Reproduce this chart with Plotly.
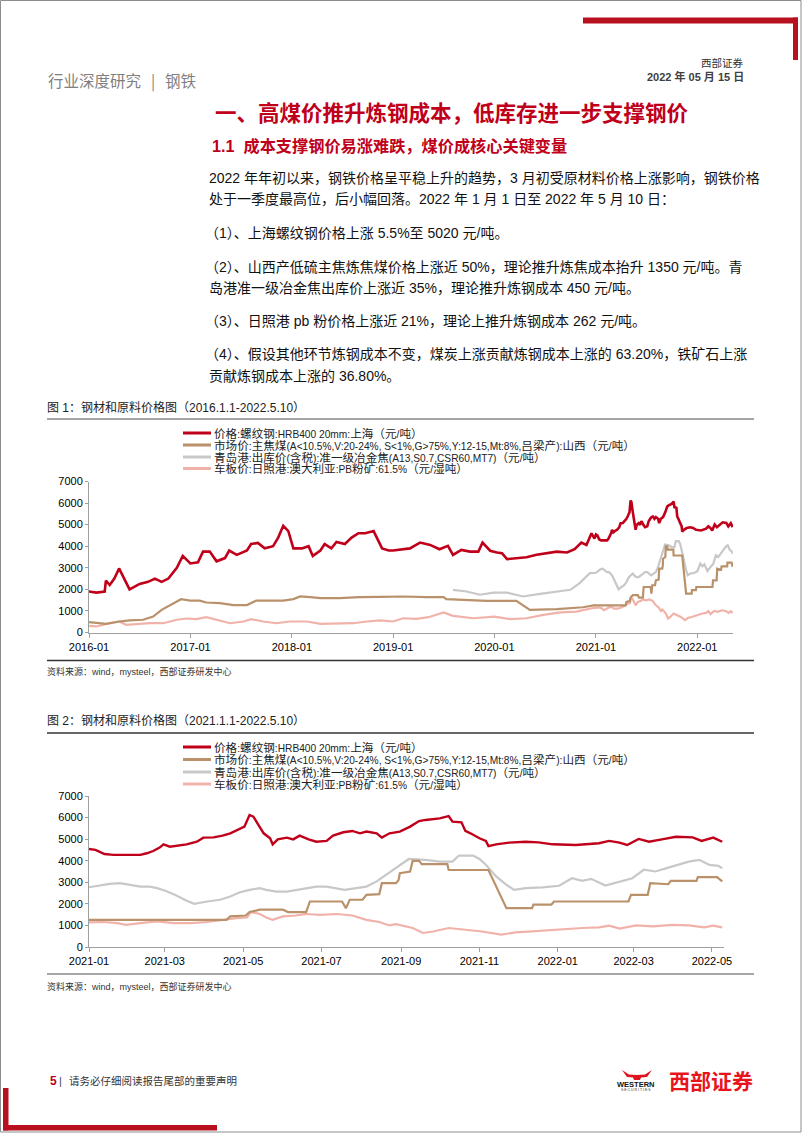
import re
import plotly.graph_objects as go
import pandas as pd

W, H = 802, 1133
CJK = "Liberation Sans, Noto Sans CJK SC"
RED = "#C0001A"

# ---------------- data ----------------
BASE1 = "2016-01-01"   # chart-1 pre-2021 values keyed by months since 2016-01
BASE2 = "2021-01-01"   # chart-2 values keyed by days since 2021-01-01

c1_red_m = [0, 0.87, 1.86, 2.0, 2.45, 3.0, 3.56, 4.0, 4.8, 6.0, 7.0, 7.8, 8.6, 9.4, 10.4, 11.1,
            12.0, 12.9, 13.5, 14.3, 15.1, 16.1, 16.6, 17.5, 18.7, 19.2, 20.0, 20.8, 21.8, 22.4, 23.0, 23.6,
            24.2, 25.2, 26.0, 26.5, 27.4, 27.9, 28.7, 29.3, 30.3, 31.1, 31.9, 32.7, 33.7, 34.7, 35.5, 36.0,
            36.8, 38.0, 39.2, 40.4, 41.5, 42.5, 43.1, 44.1, 45.1, 46.1, 46.6, 47.5, 48.3, 48.9, 49.5, 50.6,
            51.8, 53.0, 54.2, 55.4, 56.6, 57.5, 58.3, 58.9, 59.5, 59.85]
c1_red_v = [1900, 1850, 1900, 2400, 2200, 2500, 2970, 2600, 2000, 2250, 2350, 2500, 2350, 2500, 3000, 3550,
            3200, 3250, 3750, 3750, 3300, 3450, 3800, 3600, 3800, 4100, 4150, 3900, 4000, 4400, 4950, 4700,
            3900, 3900, 4000, 3550, 3800, 4100, 3900, 4200, 4100, 4400, 4600, 4600, 4700, 3900, 3800, 3800,
            3830, 3900, 4170, 4060, 3860, 4020, 3600, 3830, 3750, 3750, 4170, 3790, 3710, 3680, 3400, 3450,
            3490, 3600, 3680, 3750, 3710, 3860, 4170, 4060, 4600, 4350]

c1_brn_m = [0, 0.87, 2.0, 3.6, 4.8, 6.4, 7.6, 8.6, 9.6, 10.4, 10.9, 12.0, 13.1, 13.9, 15.5, 17.1, 18.7,
            19.8, 21.4, 23.0, 24.2, 25.0, 26.2, 27.4, 29.7, 32.0, 34.5, 37.2, 40.0, 42.0, 42.3, 47.1, 50.6,
            52.2, 55.4, 58.5, 59.9]
c1_brn_v = [480, 430, 400, 510, 560, 590, 740, 1050, 1280, 1440, 1545, 1480, 1480, 1390, 1360, 1270, 1270,
            1480, 1480, 1480, 1550, 1670, 1640, 1590, 1590, 1640, 1650, 1670, 1640, 1640, 1550, 1470, 1470,
            1050, 1080, 1170, 1270]

c1_gry_m = [43.1, 44.7, 46.3, 47.9, 49.5, 51.4, 53.4, 55.4, 57.0, 58.1, 59.3]
c1_gry_v = [1980, 1900, 1750, 1850, 1850, 1670, 1790, 1900, 1980, 2290, 2750]

c1_pnk_m = [0, 0.87, 2.45, 3.6, 4.4, 5.6, 7.2, 8.8, 10.4, 11.5, 12.7, 13.9, 15.1, 16.7, 18.3, 19.2, 20.6,
            22.2, 23.8, 25.8, 27.4, 29.3, 31.3, 32.9, 34.5, 36.0, 37.2, 38.8, 40.2, 42.0, 43.1, 45.5, 48.0,
            49.9, 51.8, 53.8, 55.8, 57.7, 58.9, 59.9]
c1_pnk_v = [310, 280, 430, 510, 355, 390, 430, 430, 590, 650, 620, 710, 590, 430, 510, 620, 510,
            430, 510, 510, 400, 430, 430, 510, 560, 510, 660, 630, 710, 930, 770, 660, 740,
            620, 660, 820, 930, 970, 1080, 1150]

c2_red_d = [0, 5, 8, 12, 19, 29, 40, 45, 50, 55, 58, 63, 68, 76, 84, 89, 97, 104, 110, 116,
            121, 125, 128, 132, 136, 141, 143, 147, 154, 159, 164, 171, 177, 185, 190, 198, 205, 211, 216, 224,
            228, 234, 242, 250, 257, 262, 273, 280, 283, 290, 293, 297, 304, 309, 311, 317, 327, 340, 350, 361,
            379, 397, 405, 413, 419, 428, 436, 446, 457, 470, 477, 486, 493]
c2_red_v = [4545, 4500, 4420, 4310, 4270, 4270, 4270, 4345, 4450, 4610, 4760, 4650, 4700, 4760, 4880, 5070, 5080, 5160, 5270, 5420,
            5580, 6120, 6040, 5650, 5270, 5040, 4760, 4990, 5070, 4990, 5160, 4990, 4880, 4920, 5160, 5320, 5380, 5270, 5350, 5270,
            5070, 5270, 5350, 5580, 5840, 5890, 5960, 6070, 5810, 5780, 5380, 5270, 5040, 4920, 4680, 4760, 4840, 4880, 4850, 4760,
            4730, 4810, 4920, 4840, 4730, 5010, 4880, 4990, 5110, 5080, 4920, 5070, 4880]

c2_brn_d = [0, 107, 110, 122, 125, 133, 151, 155, 169, 172, 197, 200, 203, 213, 216, 226, 228, 239, 241, 242,
            250, 252, 257, 259, 279, 280, 311, 317, 325, 345, 346, 360, 362, 420, 422, 435, 437, 451, 453, 473,
            474, 489, 493]
c2_brn_v = [1260, 1260, 1420, 1460, 1620, 1730, 1730, 1620, 1620, 2110, 2110, 1800, 2190, 2190, 2420, 2450, 2960, 2960, 3100, 3420,
            3500, 3990, 3990, 3840, 3840, 3570, 3570, 2800, 1800, 1800, 1960, 1960, 2110, 2110, 2420, 2420, 2960, 2910, 3070, 3070,
            3240, 3240, 3040]

c2_gry_d = [0, 8, 16, 24, 32, 40, 47, 53, 60, 68, 76, 82, 92, 102, 110, 117, 125, 133, 138, 146,
            154, 161, 169, 177, 185, 193, 199, 208, 216, 224, 231, 239, 249, 262, 273, 283, 288, 299, 304, 309,
            317, 325, 331, 340, 353, 366, 376, 384, 391, 402, 413, 423, 432, 441, 451, 462, 467, 475, 483, 490, 493]
c2_gry_v = [2770, 2850, 2930, 2960, 2880, 2800, 2800, 2730, 2600, 2390, 2140, 2000, 2110, 2190, 2340, 2530, 2650, 2730, 2650, 2570,
            2570, 2650, 2730, 2800, 2800, 2730, 2650, 2730, 2800, 3040, 3340, 3650, 4080, 4040, 3960, 3960, 4240, 4240, 4080, 3810,
            3270, 2880, 2650, 2730, 2760, 2840, 3190, 3070, 3160, 2850, 3040, 3190, 3580, 3500, 3680, 3880, 3960, 4040, 3810, 3760, 3650]

c2_pnk_d = [0, 11, 22, 29, 40, 53, 66, 79, 92, 104, 115, 123, 126, 133, 138, 143, 151, 161, 169, 180,
            193, 205, 216, 226, 234, 239, 247, 252, 260, 268, 280, 293, 306, 321, 332, 345, 358, 371, 384, 397,
            405, 413, 426, 439, 454, 467, 479, 486, 493]
c2_pnk_v = [1140, 1160, 1110, 1030, 1110, 1190, 1110, 1110, 1160, 1260, 1340, 1370, 1620, 1530, 1370, 1260, 1420, 1460, 1530, 1490,
            1530, 1460, 1260, 1160, 1000, 1060, 960, 880, 650, 720, 880, 800, 720, 570, 680, 720, 780, 830, 880, 910,
            990, 850, 1000, 960, 1030, 1000, 910, 990, 910]

series_names = [
    "价格:螺纹钢:HRB400 20mm:上海（元/吨）",
    "市场价:主焦煤(A<10.5%,V:20-24%, S<1%,G>75%,Y:12-15,Mt:8%,吕梁产):山西（元/吨）",
    "青岛港:出库价(含税):准一级冶金焦(A13,S0.7,CSR60,MT7)（元/吨）",
    "车板价:日照港:澳大利亚:PB粉矿:61.5%（元/湿吨）",
]
series_colors = [RED, "#B9916A", "#C8C8C8", "#F1B2AA"]

y_ticks = [0, 1000, 2000, 3000, 4000, 5000, 6000, 7000]

# ---------------- helpers ----------------
def m2date(ms):
    return [pd.Timestamp(BASE1) + pd.Timedelta(days=m * 30.4375) for m in ms]

def d2date(ds):
    return [pd.Timestamp(BASE2) + pd.Timedelta(days=d) for d in ds]

def X(px):
    return px / W

def Y(py):
    return 1 - py / H

CJK_RE = r"[\u3000-\u303f\u4e00-\u9fff\uff00-\uffef]"

def esc(s):
    return s.replace("&", "&amp;").replace("<", "&lt;").replace(">", "&gt;")

def mixed(s, cjk_size, lat_size):
    runs = re.findall(CJK_RE + "+|(?:(?!" + CJK_RE + ").)+", s)
    out = ""
    for r in runs:
        size = cjk_size if re.match(CJK_RE, r[0]) else lat_size
        out += f'<span style="font-size:{size}px">{esc(r)}</span>'
    return out

annotations = []
shapes = []

def text(px, py, s, size, color="#222222", anchor="left", bold=False, family=CJK):
    if bold:
        s = "<b>" + s + "</b>"
    annotations.append(dict(x=X(px), y=Y(py), xref="paper", yref="paper", text=s, showarrow=False,
                            xanchor=anchor, yanchor="middle", align="left", borderpad=0,
                            font=dict(size=size, color=color, family=family)))

def rect(x0, y0, x1, y1, color):
    shapes.append(dict(type="rect", xref="paper", yref="paper", x0=X(x0), x1=X(x1), y0=Y(y1), y1=Y(y0),
                       fillcolor=color, line=dict(width=0), layer="above"))

def hline(x0, x1, y, color, width):
    shapes.append(dict(type="line", xref="paper", yref="paper", x0=X(x0), x1=X(x1), y0=Y(y), y1=Y(y),
                       line=dict(color=color, width=width), layer="above"))

# ---------------- figure ----------------
fig = go.Figure()

c1_x = [m2date(c1_red_m) + d2date(c2_red_d), m2date(c1_brn_m) + d2date(c2_brn_d),
        m2date(c1_gry_m) + d2date(c2_gry_d), m2date(c1_pnk_m) + d2date(c2_pnk_d)]
c1_y = [c1_red_v + c2_red_v, c1_brn_v + c2_brn_v, c1_gry_v + c2_gry_v, c1_pnk_v + c2_pnk_v]
c2_x = [d2date(c2_red_d), d2date(c2_brn_d), d2date(c2_gry_d), d2date(c2_pnk_d)]
c2_y = [c2_red_v, c2_brn_v, c2_gry_v, c2_pnk_v]
widths1 = [2.6, 2.2, 2.2, 2.2]
widths2 = [2.4, 2.2, 2.2, 2.2]

for i in [3, 2, 1, 0]:
    fig.add_trace(go.Scatter(x=c1_x[i], y=c1_y[i], mode="lines", name=series_names[i],
                             line=dict(color=series_colors[i], width=widths1[i]),
                             xaxis="x", yaxis="y", showlegend=False, hoverinfo="skip"))
    fig.add_trace(go.Scatter(x=c2_x[i], y=c2_y[i], mode="lines", name=series_names[i],
                             line=dict(color=series_colors[i], width=widths2[i]),
                             xaxis="x2", yaxis="y2", showlegend=False, hoverinfo="skip"))

tickfont = dict(family="Liberation Sans, Arial", size=11, color="#000000")
axis_common = dict(showgrid=False, zeroline=False, showline=True, linecolor="#A0A0A0", linewidth=1,
                   ticks="outside", tickcolor="#A0A0A0", tickfont=tickfont, fixedrange=True,
                   automargin=False)

fig.update_layout(
    template="none",
    width=W, height=H, margin=dict(l=0, r=0, t=0, b=0, pad=0, autoexpand=False),
    paper_bgcolor="white", plot_bgcolor="white", showlegend=False,
    xaxis=dict(axis_common, domain=[X(89), X(733)], range=["2016-01-01", "2022-05-10"],
               dtick="M12", tick0="2016-01-01", tickformat="%Y-%m", ticklen=4, anchor="y"),
    yaxis=dict(axis_common, domain=[Y(632.5), Y(481.5)], range=[0, 7000], tickvals=y_ticks,
               ticklen=3, anchor="x"),
    xaxis2=dict(axis_common, domain=[X(89), X(723.5)], range=["2021-01-01", "2022-05-10"],
                dtick="M2", tick0="2021-01-01", tickformat="%Y-%m", ticklen=4, anchor="y2"),
    yaxis2=dict(axis_common, domain=[Y(947), Y(796)], range=[0, 7000], tickvals=y_ticks,
                ticklen=3, anchor="x2"),
)

# ---------------- page decorations ----------------
shapes.append(dict(type="rect", xref="paper", yref="paper", x0=X(0.5), x1=X(801), y0=Y(1132), y1=Y(0.5),
                   line=dict(color="#8C8C8C", width=1), fillcolor="rgba(0,0,0,0)", layer="above"))
rect(583, 17.5, 798, 23.5, "#B8101E")
rect(793, 17.5, 798, 60, "#B8101E")
rect(3, 1088, 8.5, 1130.5, "#B8101E")
rect(3, 1125, 217, 1130.5, "#B8101E")

# header
text(47, 80, "行业深度研究", 15.5, "#7F7F7F", family="Noto Sans CJK SC")
text(153, 80, "|", 15.5, "#7F7F7F", anchor="center", family="Noto Sans CJK SC")
text(164, 80, "钢铁", 15.5, "#7F7F7F", family="Noto Sans CJK SC")
text(745, 63, "西部证券", 10.5, "#333333", anchor="right")
text(745, 77, "2022 年 05 月 15 日", 11, "#404040", anchor="right", bold=True)

# titles
text(214, 113, "一、高煤价推升炼钢成本，低库存进一步支撑钢价", 21.5, RED, bold=True)
text(211, 146, "1.1  成本支撑钢价易涨难跌，煤价成核心关键变量", 16.2, RED, bold=True)

body = [
    (208, 178, "2022 年年初以来，钢铁价格呈平稳上升的趋势，3 月初受原材料价格上涨影响，钢铁价格"),
    (208, 199, "处于一季度最高位，后小幅回落。2022 年 1 月 1 日至 2022 年 5 月 10 日："),
    (204, 233, "（1）、上海螺纹钢价格上涨 5.5%至 5020 元/吨。"),
    (204, 267, "（2）、山西产低硫主焦炼焦煤价格上涨近 50%，理论推升炼焦成本抬升 1350 元/吨。青"),
    (208, 288, "岛港准一级冶金焦出库价上涨近 35%，理论推升炼钢成本 450 元/吨。"),
    (204, 321, "（3）、日照港 pb 粉价格上涨近 21%，理论上推升炼钢成本 262 元/吨。"),
    (204, 354, "（4）、假设其他环节炼钢成本不变，煤炭上涨贡献炼钢成本上涨的 63.20%，铁矿石上涨"),
    (208, 376, "贡献炼钢成本上涨的 36.80%。"),
]
for bx, by, s in body:
    text(bx, by, s, 14, "#111111")

# figure 1 captions / rules
text(46, 408, "图 1：钢材和原料价格图（2016.1.1-2022.5.10）", 12, "#222222")
hline(47, 754, 419, "#A6A6A6", 2)
hline(47, 754, 660.5, "#333333", 1.3)
text(46, 672, "资料来源：wind，mysteel，西部证券研发中心", 9, "#333333")

# figure 2 captions / rules
text(46, 720, "图 2：钢材和原料价格图（2021.1.1-2022.5.10）", 12, "#222222")
hline(47, 754, 733, "#333333", 1.3)
hline(47, 754, 974, "#A6A6A6", 2)
text(46, 986, "资料来源：wind，mysteel，西部证券研发中心", 9, "#333333")

# legends
for rows in ([433, 445, 457, 468.5], [747, 759.5, 772, 784]):
    for i, ry in enumerate(rows):
        hline(183, 211, ry, series_colors[i], 3)
        text(213, ry, mixed(series_names[i], 11.6, 10.2), 11, "#222222")

# footer
text(49, 1081, "5", 12, RED, bold=True)
text(61, 1081, "|", 11, "#444444", anchor="center")
text(68, 1081, "请务必仔细阅读报告尾部的重要声明", 10.5, "#333333")

# logo
bull = [(622, 1070), (627, 1077), (633, 1077.5), (634, 1080), (640, 1080), (641, 1077.5),
        (647, 1077), (652, 1070), (645, 1074.5), (637, 1075), (629, 1074.5)]
path = "M " + " L ".join(f"{X(a)},{Y(b)}" for a, b in bull) + " Z"
shapes.append(dict(type="path", xref="paper", yref="paper", path=path, fillcolor="#E0141E",
                   line=dict(width=0), layer="above"))
text(636, 1084.5, "WESTERN", 7.5, "#111111", anchor="center", bold=True, family="Liberation Sans")
text(636, 1090, "S E C U R I T I E S", 3.5, "#333333", anchor="center", family="Liberation Sans")
text(711, 1080, "西部证券", 21, "#E8141C", anchor="center", bold=True, family="Noto Sans CJK SC")

fig.update_layout(annotations=annotations, shapes=shapes)
fig.write_html("out.html", config={"displayModeBar": False, "staticPlot": True},
               post_script="document.body.style.margin='0';document.body.style.padding='0';"
                           "document.documentElement.style.overflow='hidden';")
